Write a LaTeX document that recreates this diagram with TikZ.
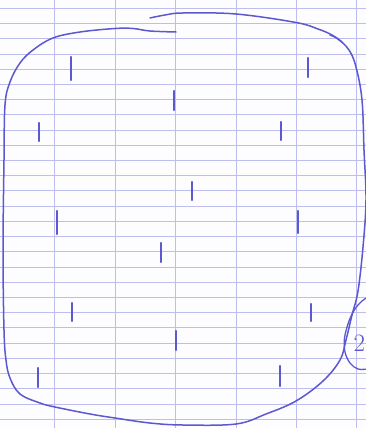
\documentclass[tikz,border=0pt]{standalone}
\begin{document}
\begin{tikzpicture}[x=1pt,y=-1pt,
  gridline/.style={draw=gridcol,line width=0.9pt},
  penline/.style={draw=pen,line width=1.5pt,line cap=round,line join=round},
  tally/.style={draw=pen,line width=2.3pt,line cap=round},
  label2/.style={text=pen,font=\fontsize{25}{25}\selectfont,inner sep=0pt}]
\definecolor{gridcol}{RGB}{190,190,238}
\definecolor{pen}{RGB}{92,88,208}
\definecolor{paper}{RGB}{253,253,255}
\useasboundingbox (0,0) rectangle (366,428);
\clip (0,0) rectangle (366,428);
\fill[paper] (0,0) rectangle (366,428);
% Seyes-like ruling
\foreach \k in {0,...,27} {\draw[gridline] (0,8.3+15.22*\k) -- (366,8.3+15.22*\k);}
\foreach \x in {54.5,115,175.3,236,296.3,356.5} {\draw[gridline] (\x,0) -- (\x,428);}
% main outline
\draw[penline] plot[smooth,tension=0.6] coordinates {
 (176,32) (150,31) (133,28.5) (115,28.5) (80,32) (53,38) (33,50) (20,63) (10,82) (5,105)
 (4,160) (3,250) (4,330) (6,360) (10,378) (20,394) (40,403) (55,407) (90,414) (115,418)
 (150,423) (183,425) (236,424) (266,414) (296,401) (323,381) (340,360) (346,340)
 (352,315) (358,291) (363,247) (366,200) (364,150) (362,100) (356,67) (349,50) (338,39) (330,35)};
\draw[penline] plot[smooth,tension=0.6] coordinates {
 (150,18) (165,15) (183,13) (236,14) (296,22.5) (318,29) (332,35) (342,42)};
% circled 2 at the right edge
\draw[penline,line width=1.3pt] plot[smooth,tension=0.6] coordinates {
 (368,297) (362,301) (355,309) (349,321) (344.5,338) (345,352) (350,363) (358,369) (368,369)};
\node[label2,anchor=base west] (two) at (353.5,351) {2};
% tally marks
\foreach \x/\ya/\yb in {71/57/80, 174/91/110, 39/123/141, 308/58/77, 281/122/140,
  192/182/200, 57/211/234, 298/211/233, 161/243/262, 72/303/321, 176/331/350,
  311/304/321, 38/368/387, 280/366/386} {
  \draw[tally] (\x,\ya) -- (\x,\yb);}
\end{tikzpicture}
\end{document}
